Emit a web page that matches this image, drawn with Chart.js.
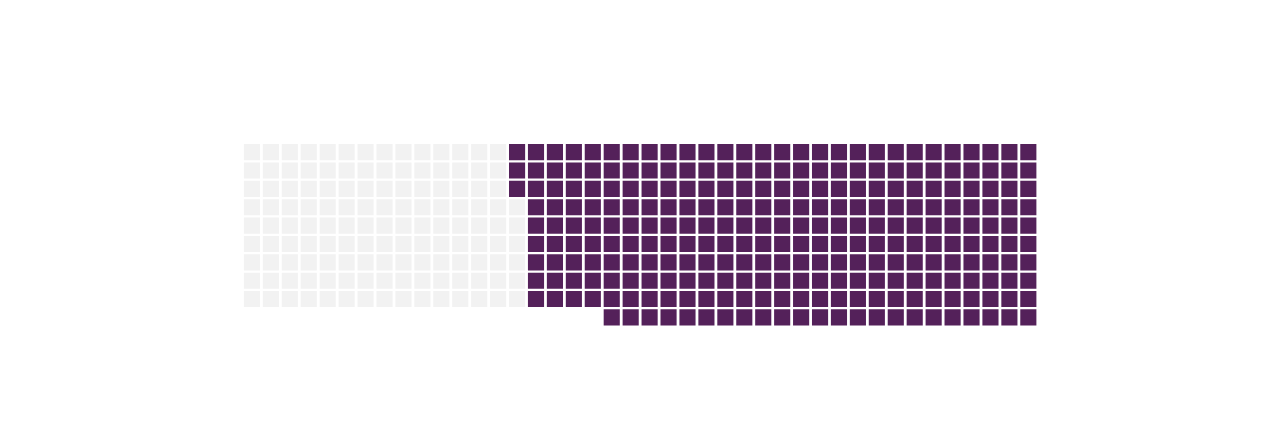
<!DOCTYPE html>
<html>
<head>
<meta charset="utf-8">
<title>Waffle</title>
<script src="https://cdn.jsdelivr.net/npm/chart.js@4/dist/chart.umd.min.js"></script>
<style>
  html, body { margin: 0; padding: 0; background: #fff; }
  #wrap { width: 1280px; height: 426px; }
</style>
</head>
<body>
<div id="wrap"><canvas id="chart" width="1280" height="426"></canvas></div>
<script>
// waffle data
const categories = ['Rest', 'Share'];
const cellCounts = [132, 269];
const cellColors = ['#f2f2f2', '#54215a'];
const gridRows = 10;
const gridCols = 42;

// build cells column by column, bottom to top; the short bottom row is right aligned
function buildCells() {
    const total = cellCounts.reduce((a, b) => a + b, 0);
    const bottomRowCount = total - gridCols * (gridRows - 1);
    const cells = [];
    for (let c = 0; c < gridCols; c++) {
        const hasBottom = c >= gridCols - bottomRowCount;
        for (let r = hasBottom ? 0 : 1; r < gridRows; r++) {
            cells.push({ x: c, y: r });
        }
    }
    const groups = categories.map(() => []);
    let idx = 0;
    cellCounts.forEach((n, i) => {
        for (let k = 0; k < n; k++) groups[i].push(cells[idx++]);
    });
    return groups;
}

const groups = buildCells();

new Chart(document.getElementById('chart').getContext('2d'), {
    type: 'scatter',
    data: {
        datasets: categories.map((name, i) => ({
            label: name,
            data: groups[i],
            pointStyle: 'rect',
            pointRadius: 11.4,
            pointHoverRadius: 11.4,
            borderWidth: 0,
            backgroundColor: cellColors[i]
        }))
    },
    options: {
        responsive: false,
        animation: false,
        layout: { padding: { left: 242.5, right: 242.2, top: 143, bottom: 99.4 } },
        scales: {
            x: { display: false, min: -0.5, max: gridCols - 0.5 },
            y: { display: false, min: -0.5, max: gridRows - 0.5 }
        },
        plugins: {
            legend: { display: false },
            tooltip: { enabled: false }
        }
    }
});
</script>
</body>
</html>
